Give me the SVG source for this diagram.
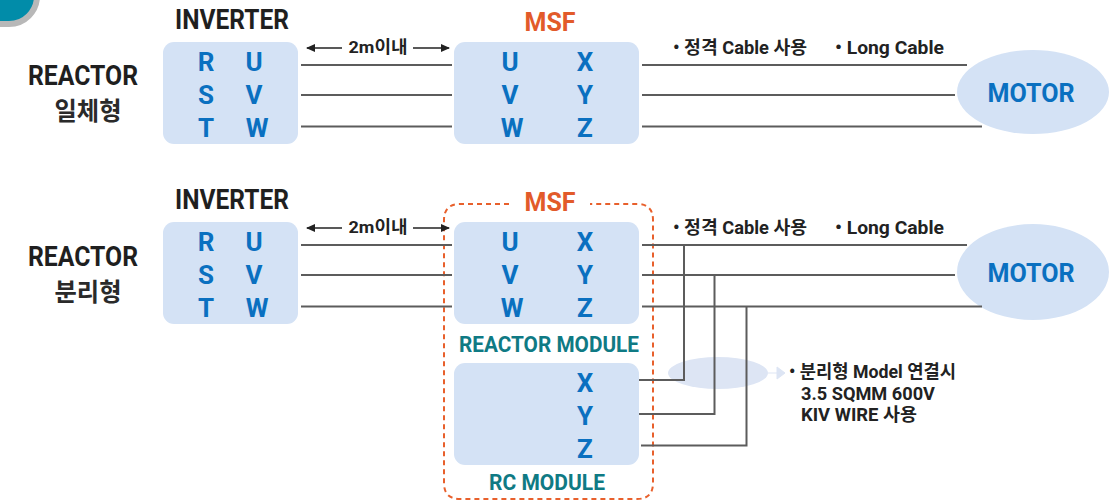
<svg xmlns="http://www.w3.org/2000/svg" width="1115" height="501" viewBox="0 0 1115 501">
<defs>
<marker id="ah" markerWidth="9" markerHeight="8" refX="8" refY="4" orient="auto-start-reverse" markerUnits="userSpaceOnUse"><path d="M0 0L9 4L0 8Z" fill="#222"/></marker>
</defs>
<style>
text{font-family:Roboto,"Liberation Sans","Noto Sans CJK KR",sans-serif;text-anchor:middle;font-weight:bold}
.box{fill:#d4e2f5}
.t{font-size:27px;fill:#1f1f1f}
.k{font-size:25px;fill:#2a2a2a}
.l{font-size:26px;fill:#0a70c0}
.o{font-size:26px;fill:#e25a2a}
.g{font-size:22px;fill:#0f7a84}
.s{font-size:18px;fill:#222;text-anchor:start}
.m{font-size:17px;fill:#222}
.w{fill:none;stroke:#5c5c5c;stroke-width:2}
.a{stroke:#222;stroke-width:1.6;fill:none;marker-end:url(#ah)}
</style>
<g id="corner"><rect x="-40" y="-40" width="77" height="64" rx="28" fill="#018ca9" stroke="#b8b8b8" stroke-width="6"/></g>

<g id="label-top"><text class="t" x="83" y="85" textLength="110" lengthAdjust="spacingAndGlyphs">REACTOR</text><text class="k" x="88" y="120" textLength="67" lengthAdjust="spacingAndGlyphs">일체형</text></g>
<g id="label-bottom"><text class="t" x="83" y="266" textLength="110" lengthAdjust="spacingAndGlyphs">REACTOR</text><text class="k" x="88" y="301" textLength="67" lengthAdjust="spacingAndGlyphs">분리형</text></g>

<g id="inverter-top">
<text class="t" x="232" y="29" textLength="114" lengthAdjust="spacingAndGlyphs">INVERTER</text>
<rect class="box" x="163" y="42" width="135" height="102" rx="11"/>
<text class="l" x="206" y="71">R</text><text class="l" x="254" y="71">U</text>
<text class="l" x="206" y="104">S</text><text class="l" x="254" y="104">V</text>
<text class="l" x="206" y="137">T</text><text class="l" x="257" y="137">W</text>
</g>
<g id="msf-top">
<text class="o" x="550" y="31" textLength="51" lengthAdjust="spacingAndGlyphs">MSF</text>
<rect class="box" x="454" y="42" width="185" height="102" rx="11"/>
<text class="l" x="510" y="71">U</text><text class="l" x="585" y="71">X</text>
<text class="l" x="510" y="104">V</text><text class="l" x="585" y="104">Y</text>
<text class="l" x="512" y="137">W</text><text class="l" x="585" y="137">Z</text>
</g>
<g id="motor-top"><ellipse class="box" cx="1033" cy="92" rx="76" ry="42"/><text class="l" x="1031" y="102" textLength="87" lengthAdjust="spacingAndGlyphs">MOTOR</text></g>

<g id="inverter-bottom">
<text class="t" x="232" y="209" textLength="114" lengthAdjust="spacingAndGlyphs">INVERTER</text>
<rect class="box" x="163" y="222" width="135" height="102" rx="11"/>
<text class="l" x="206" y="251">R</text><text class="l" x="254" y="251">U</text>
<text class="l" x="206" y="284">S</text><text class="l" x="254" y="284">V</text>
<text class="l" x="206" y="317">T</text><text class="l" x="257" y="317">W</text>
</g>
<g id="msf-bottom">
<path d="M509 204H460Q444 204 444 220V483Q444 499 460 499H637Q653 499 653 483V220Q653 204 637 204H590" fill="none" stroke="#e8602c" stroke-width="2" stroke-dasharray="5 4"/>
<text class="o" x="550" y="211" textLength="51" lengthAdjust="spacingAndGlyphs">MSF</text>
</g>
<g id="reactor-module">
<rect class="box" x="454" y="222" width="185" height="102" rx="11"/>
<text class="l" x="510" y="251">U</text><text class="l" x="585" y="251">X</text>
<text class="l" x="510" y="284">V</text><text class="l" x="585" y="284">Y</text>
<text class="l" x="512" y="317">W</text><text class="l" x="585" y="317">Z</text>
<text class="g" x="549" y="352" textLength="180" lengthAdjust="spacingAndGlyphs">REACTOR MODULE</text>
</g>
<g id="rc-module">
<rect class="box" x="454" y="363" width="185" height="102" rx="11"/>
<text class="l" x="585" y="392">X</text><text class="l" x="585" y="425">Y</text><text class="l" x="585" y="458">Z</text>
<text class="g" x="547" y="490" textLength="116" lengthAdjust="spacingAndGlyphs">RC MODULE</text>
</g>
<g id="motor-bottom"><ellipse class="box" cx="1033" cy="272" rx="76" ry="48"/><text class="l" x="1031" y="282" textLength="87" lengthAdjust="spacingAndGlyphs">MOTOR</text></g>
<g id="wire-highlight"><ellipse cx="718" cy="373" rx="50" ry="16" fill="#dde5f4"/><path d="M768 373H777M777 367L785 373L777 379Z" fill="#dde5f4" stroke="#dde5f4"/></g>

<g id="connectors">
<path class="w" d="M301 65H452M301 95H452M301 126.500H452M642 65H967M642 95H955M642 126.500H982"/>
<path class="w" d="M301 245H452M301 275H452M301 306.500H452M642 245H967M642 275H955M642 306.500H982"/>
<path class="w" d="M639 380H684V245M639 414H714.500V275M641 445.500H746.500V306.500"/>
<path class="a" d="M342 48H307"/><path class="a" d="M413 48H449"/>
<path class="a" d="M342 228H307"/><path class="a" d="M413 228H449"/>
</g>

<g id="notes">
<text class="m" x="378" y="53" textLength="59" lengthAdjust="spacingAndGlyphs">2m이내</text>
<text class="m" x="378" y="233" textLength="59" lengthAdjust="spacingAndGlyphs">2m이내</text>
<text class="s" x="673" y="54" textLength="134" lengthAdjust="spacingAndGlyphs">• 정격 Cable 사용</text><text class="s" x="835" y="54" textLength="109" lengthAdjust="spacingAndGlyphs">• Long Cable</text>
<text class="s" x="673" y="234" textLength="134" lengthAdjust="spacingAndGlyphs">• 정격 Cable 사용</text><text class="s" x="835" y="234" textLength="109" lengthAdjust="spacingAndGlyphs">• Long Cable</text>
<text class="s" x="789" y="378" textLength="167" lengthAdjust="spacingAndGlyphs">• 분리형 Model 연결시</text>
<text class="s" x="801" y="400" textLength="134" lengthAdjust="spacingAndGlyphs">3.5 SQMM 600V</text>
<text class="s" x="801" y="421" textLength="116" lengthAdjust="spacingAndGlyphs">KIV WIRE 사용</text>
</g>
</svg>
